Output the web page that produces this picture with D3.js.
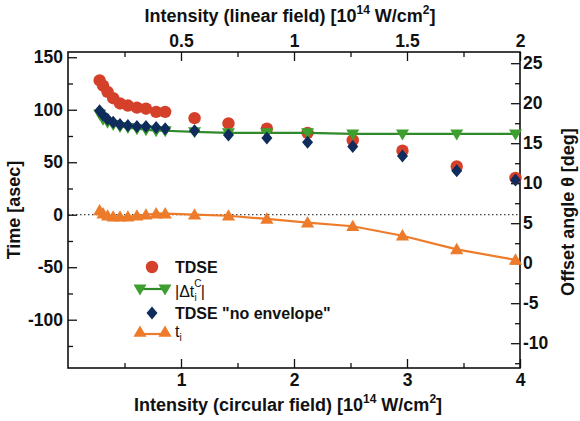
<!DOCTYPE html>
<html>
<head>
<meta charset="utf-8">
<script src="https://cdn.jsdelivr.net/npm/d3@7"></script>
<style>
  body { margin: 0; background: #fff; }
  text { font-family: "Liberation Sans", Arial, sans-serif; }
</style>
</head>
<body>
<svg id="chart" width="580" height="421"></svg>
<script>
//Data
const intensity = [0.28, 0.31, 0.35, 0.40, 0.46, 0.53, 0.61, 0.69, 0.78, 0.86, 1.12, 1.42, 1.76, 2.12, 2.52, 2.96, 3.44, 3.96];
const tdse       = [128, 123, 117, 111, 106, 104, 102, 101, 98, 98, 92, 87, 82, 78, 71, 61, 46, 35];
const deltaTC    = [96, 91, 88, 86, 84, 83, 82, 81, 80, 80, 79, 78, 78, 78, 77, 77, 77, 77];
const tdseNoEnv  = [99, 95, 91, 88, 86, 85, 84, 84, 83, 82, 80, 76, 73, 69, 65, 56, 42, 33];
const tI         = [4, 1, -1, -2, -2, -2, -1, 0, 1, 1, 0, -1, -4, -7.5, -11, -20, -33, -43];
const bottomTicks = [1, 2, 3, 4];
const topTicks = [0.5, 1, 1.5, 2];
const leftTicks = [150, 100, 50, 0, -50, -100];
const rightTicks = [25, 20, 15, 10, 5, 0, -5, -10];

//Layout
const svg = d3.select('#chart');
const plot = { left: 68, right: 520, top: 52, bottom: 368 };
const FONT = '"Liberation Sans", Arial, sans-serif';

const x = d3.scaleLinear().domain([0, 4]).range([plot.left, plot.right]);
const xTop = d3.scaleLinear().domain([0, 2]).range([plot.left, plot.right]);
const y = d3.scaleLinear().domain([-146, 155]).range([plot.bottom, plot.top]);
const yRight = d3.scaleLinear().domain([-13.1, 26.4]).range([plot.bottom, plot.top]);

const styleAxis = g => {
  g.select('.domain').remove();
  g.selectAll('line').attr('stroke', '#111').attr('stroke-width', 1.3);
  g.attr('font-family', FONT).attr('font-size', 17.5).attr('font-weight', 'bold');
  g.selectAll('text').attr('fill', '#111');
};
const plain = d => String(d);

// major + minor ticks, pointing inward
svg.append('g').attr('transform', `translate(0,${plot.bottom})`)
  .call(d3.axisBottom(x).tickValues(bottomTicks).tickFormat(plain).tickSize(-9).tickPadding(6))
  .call(styleAxis);
svg.append('g').attr('transform', `translate(0,${plot.bottom})`)
  .call(d3.axisBottom(x).tickValues(d3.range(0.5, 4, 1)).tickFormat('').tickSize(-5))
  .call(styleAxis);

svg.append('g').attr('transform', `translate(0,${plot.top})`)
  .call(d3.axisTop(xTop).tickValues(topTicks).tickFormat(plain).tickSize(-9).tickPadding(5))
  .call(styleAxis);
svg.append('g').attr('transform', `translate(0,${plot.top})`)
  .call(d3.axisTop(xTop).tickValues(d3.range(0.25, 2, 0.5)).tickFormat('').tickSize(-5))
  .call(styleAxis);

svg.append('g').attr('transform', `translate(${plot.left},0)`)
  .call(d3.axisLeft(y).tickValues(leftTicks).tickFormat(plain).tickSize(-9).tickPadding(5))
  .call(styleAxis);
svg.append('g').attr('transform', `translate(${plot.left},0)`)
  .call(d3.axisLeft(y).tickValues([125, 75, 25, -25, -75, -125]).tickFormat('').tickSize(-5))
  .call(styleAxis);

svg.append('g').attr('transform', `translate(${plot.right},0)`)
  .call(d3.axisRight(yRight).tickValues(rightTicks).tickFormat(plain).tickSize(-9).tickPadding(3))
  .call(styleAxis);
svg.append('g').attr('transform', `translate(${plot.right},0)`)
  .call(d3.axisRight(yRight).tickValues(d3.range(-12.5, 26, 5)).tickFormat('').tickSize(-5))
  .call(styleAxis);

// frame
svg.append('rect')
  .attr('x', plot.left).attr('y', plot.top)
  .attr('width', plot.right - plot.left).attr('height', plot.bottom - plot.top)
  .attr('fill', 'none').attr('stroke', '#111').attr('stroke-width', 1.6);

// zero line
svg.append('line')
  .attr('x1', plot.left).attr('x2', plot.right)
  .attr('y1', y(0)).attr('y2', y(0))
  .attr('stroke', '#111').attr('stroke-width', 1).attr('stroke-dasharray', '1.5,2.5');

//Series
const RED = '#d5402a', GREEN = '#3c9f2e', GREEN_DARK = '#2f8a2a', NAVY = '#102c5c', ORANGE = '#ee7b2a';
const pts = vals => intensity.map((v, i) => ({ x: v, y: vals[i] }));
const line = d3.line().x(d => x(d.x)).y(d => y(d.y));
const triUp = d3.symbol().type(d3.symbolTriangle).size(75);
const triDown = 'M-6.5,-4.5L6.5,-4.5L0,6.5Z';
const diamond = 'M0,-6.5L5.5,0L0,6.5L-5.5,0Z';

svg.append('g').selectAll('circle').data(pts(tdse)).join('circle')
  .attr('cx', d => x(d.x)).attr('cy', d => y(d.y)).attr('r', 6.2)
  .attr('fill', RED);

svg.append('path').datum(pts(deltaTC)).attr('d', line)
  .attr('fill', 'none').attr('stroke', GREEN_DARK).attr('stroke-width', 2.2);
svg.append('g').selectAll('path').data(pts(deltaTC)).join('path')
  .attr('transform', d => `translate(${x(d.x)},${y(d.y)})`)
  .attr('d', triDown).attr('fill', GREEN);

svg.append('g').selectAll('path').data(pts(tdseNoEnv)).join('path')
  .attr('transform', d => `translate(${x(d.x)},${y(d.y)})`)
  .attr('d', diamond).attr('fill', NAVY);

svg.append('path').datum(pts(tI)).attr('d', line)
  .attr('fill', 'none').attr('stroke', ORANGE).attr('stroke-width', 2.2);
svg.append('g').selectAll('path').data(pts(tI)).join('path')
  .attr('transform', d => `translate(${x(d.x)},${y(d.y) + 1})`)
  .attr('d', triUp).attr('fill', ORANGE);

//Legend
const legend = svg.append('g').attr('font-family', FONT).attr('font-size', 16).attr('fill', '#111');
const lx = 152, tx = 175;
legend.append('circle').attr('cx', lx).attr('cy', 267).attr('r', 6.2).attr('fill', RED);
legend.append('text').attr('x', tx).attr('y', 267).attr('dy', '0.35em')
  .attr('font-weight', 'bold').text('TDSE');

legend.append('line').attr('x1', 140).attr('x2', 165).attr('y1', 289).attr('y2', 289)
  .attr('stroke', GREEN_DARK).attr('stroke-width', 2.2);
[140, 165].forEach(px => legend.append('path')
  .attr('transform', `translate(${px},289)`).attr('d', triDown).attr('fill', GREEN));
const dt = legend.append('text').attr('x', tx).attr('y', 297);
dt.append('tspan').text('|Δt');
dt.append('tspan').attr('font-size', 10).attr('dy', -10).text('C');
dt.append('tspan').attr('font-size', 10).attr('dx', -7).attr('dy', 14).text('i');
dt.append('tspan').attr('dx', 4).attr('dy', -4).text('|');

legend.append('path').attr('transform', `translate(${lx},313)`).attr('d', diamond).attr('fill', NAVY);
legend.append('text').attr('x', tx).attr('y', 313).attr('dy', '0.35em')
  .attr('font-weight', 'bold').text('TDSE "no envelope"');

legend.append('line').attr('x1', 140).attr('x2', 165).attr('y1', 334).attr('y2', 334)
  .attr('stroke', ORANGE).attr('stroke-width', 2.2);
[140, 165].forEach(px => legend.append('path')
  .attr('transform', `translate(${px},333)`).attr('d', triUp).attr('fill', ORANGE));
const tl = legend.append('text').attr('x', tx).attr('y', 337);
tl.append('tspan').text('t');
tl.append('tspan').attr('font-size', 10).attr('dy', 4).text('i');

//Axis titles
const titles = svg.append('g').attr('font-family', FONT).attr('font-size', 18)
  .attr('font-weight', 'bold').attr('fill', '#111');
const intensityTitle = (g, label) => {
  g.append('tspan').text(`Intensity (${label}) [10`);
  g.append('tspan').attr('font-size', 12).attr('dy', -8).text('14');
  g.append('tspan').attr('dy', 8).text(' W/cm');
  g.append('tspan').attr('font-size', 12).attr('dy', -8).text('2');
  g.append('tspan').attr('dy', 8).text(']');
};
titles.append('text').attr('x', 290).attr('y', 22).attr('text-anchor', 'middle')
  .call(intensityTitle, 'linear field');
titles.append('text').attr('x', 288).attr('y', 411).attr('text-anchor', 'middle')
  .call(intensityTitle, 'circular field');
titles.append('text')
  .attr('transform', 'translate(20,210) rotate(-90)')
  .attr('text-anchor', 'middle').text('Time [asec]');
titles.append('text')
  .attr('transform', 'translate(574,212) rotate(-90)')
  .attr('text-anchor', 'middle').text('Offset angle θ [deg]');
</script>
</body>
</html>
